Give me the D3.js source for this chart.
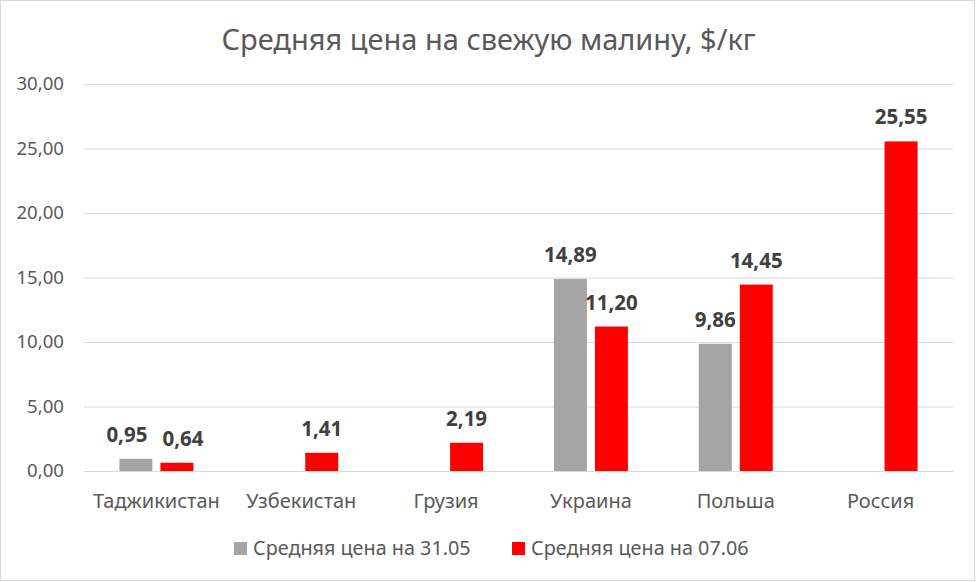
<!DOCTYPE html>
<html><head><meta charset="utf-8">
<script src="https://cdn.jsdelivr.net/npm/d3@7"></script>
<style>body{margin:0;background:#fff}svg{display:block}text{font-family:"Noto Sans",sans-serif}</style>
</head><body><svg id="c" width="976" height="582"></svg>
<script>
const categories = ["Таджикистан","Узбекистан","Грузия","Украина","Польша","Россия"];
const series1 = [0.95, null, null, 14.89, 9.86, null];
const series2 = [0.64, 1.41, 2.19, 11.20, 14.45, 25.55];
const seriesNames = ["Средняя цена на 31.05","Средняя цена на 07.06"];
const yTicks = [0,5,10,15,20,25,30];
const title = "Средняя цена на свежую малину, $/кг";

const svg = d3.select("#c");
const W=976,H=582;
svg.append("rect").attr("x",0.5).attr("y",0.5).attr("width",W-2).attr("height",H-2).attr("fill","#fff").attr("stroke","#d9d9d9");

const x = d3.scaleBand().domain(categories).range([84,953]);
const y = d3.scaleLinear().domain([0,30]).range([471,84]);
const fmt = v => v.toFixed(2).replace(".",",");

svg.append("text").attr("x",488.5).attr("y",50).attr("text-anchor","middle")
  .attr("font-size",29).attr("fill","#595959").text(title);

const gy = svg.append("g").attr("transform","translate(84,0)")
  .call(d3.axisLeft(y).tickValues(yTicks).tickSize(-869).tickFormat(fmt).tickPadding(20));
gy.select(".domain").remove();
gy.selectAll("line").attr("stroke","#d9d9d9");
gy.selectAll("text").attr("font-size",18.6).attr("fill","#595959");

const gx = svg.append("g").attr("transform","translate(0,471)")
  .call(d3.axisBottom(x).tickSize(0).tickPadding(23));
gx.select(".domain").remove();
gx.selectAll("text").attr("font-size",20).attr("fill","#595959").attr("dy","0.72em");

const bw = 33, gap = 8;
const colors = ["#a5a5a5","#ff0000"];
const labels = [[],[]];
[series1, series2].forEach((s,si)=>{
  const off = si===0 ? -gap/2-bw : gap/2;
  categories.forEach((c,i)=>{
    const v = s[i]; if(v==null) return;
    const cx = x(c)+x.bandwidth()/2;
    svg.append("rect").attr("x",cx+off).attr("y",y(v)).attr("width",bw).attr("height",y(0)-y(v)).attr("fill",colors[si]);
    labels[si][i] = svg.append("text").attr("x",cx+off+bw/2).attr("y",y(v)-17).attr("text-anchor","middle")
      .attr("font-size",20.5).attr("font-weight","bold").attr("fill","#404040").text(fmt(v));
  });
});
// nudge overlapping labels apart (as the original does)
categories.forEach((c,i)=>{
  const a = labels[0][i], b = labels[1][i];
  if(!a||!b) return;
  const ba = a.node().getBBox(), bb = b.node().getBBox();
  const overlapX = (ba.x+ba.width+15) - bb.x;
  const overlapY = Math.min(ba.y+ba.height, bb.y+bb.height) - Math.max(ba.y, bb.y);
  if(overlapX>0 && overlapY>0){
    a.attr("x", +a.attr("x") - overlapX*0.6);
    b.attr("x", +b.attr("x") + overlapX*0.4);
  }
});

const lg = [{x:234,tx:253},{x:512,tx:531}];
seriesNames.forEach((n,i)=>{
  svg.append("rect").attr("x",lg[i].x).attr("y",542).attr("width",13).attr("height",13).attr("fill",colors[i]);
  svg.append("text").attr("x",lg[i].tx).attr("y",555).attr("font-size",19.8).attr("fill","#595959").text(n);
});
</script></body></html>
